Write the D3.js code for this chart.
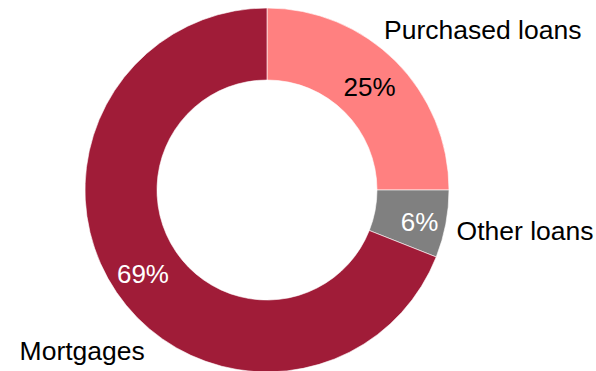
<!DOCTYPE html>
<html><head><meta charset="utf-8">
<script src="https://cdn.jsdelivr.net/npm/d3@7"></script>
<style>html,body{margin:0;padding:0;background:#fff;}svg{display:block;}</style>
</head><body>
<svg id="chart" width="596" height="371"></svg>
<script>
const categories = ["Purchased loans", "Other loans", "Mortgages"];
const values = [25, 6, 69];
const colors = ["#FF8080", "#808080", "#A01C38"];
const pctLabels = ["25%", "6%", "69%"];
const pctColors = ["#000000", "#ffffff", "#ffffff"];

const W = 596, H = 371;
const cx = 267, cy = 190, rOuter = 182, rInner = 110;
const svg = d3.select("#chart");
const g = svg.append("g").attr("transform", `translate(${cx},${cy})`);

const pie = d3.pie().sort(null).value(d => d)(values);
const arc = d3.arc().innerRadius(rInner).outerRadius(rOuter);

g.selectAll("path").data(pie).join("path")
  .attr("d", arc)
  .attr("fill", (d,i) => colors[i])
  .attr("stroke", "#fff").attr("stroke-width", 0.6);

const font = "'Liberation Sans', Arial, sans-serif";
const pctRadius = [145, 156, 150];
const pctAngleAdj = [0, 0.02, 0];
g.selectAll("text.pct").data(pie).join("text")
  .attr("class", "pct")
  .attr("transform", (d,i) => {
    const a = (d.startAngle + d.endAngle)/2 + pctAngleAdj[i];
    const c = d3.arc().innerRadius(pctRadius[i]).outerRadius(pctRadius[i]).centroid({startAngle:a, endAngle:a});
    return `translate(${c[0]},${c[1]})`;
  })
  .attr("text-anchor", "middle").attr("dominant-baseline", "central")
  .attr("font-family", font).attr("font-size", 26)
  .attr("fill", (d,i) => pctColors[i])
  .text((d,i) => pctLabels[i]);

// outside category labels
const labelRadius = [198, 194, 202];
const labelAnchor = ["start", "start", "end"];
const labelAngleAdj = [-0.153, 0.025, -0.324];
g.selectAll("text.cat").data(pie).join("text")
  .attr("class", "cat")
  .attr("transform", (d,i) => {
    const a = (d.startAngle + d.endAngle)/2 + labelAngleAdj[i];
    const c = d3.arc().innerRadius(labelRadius[i]).outerRadius(labelRadius[i]).centroid({startAngle:a, endAngle:a});
    return `translate(${c[0]},${c[1]})`;
  })
  .attr("text-anchor", (d,i) => labelAnchor[i]).attr("dominant-baseline", "central")
  .attr("font-family", font).attr("font-size", 26.5).attr("fill", "#000")
  .text((d,i) => categories[i]);
</script>
</body></html>
